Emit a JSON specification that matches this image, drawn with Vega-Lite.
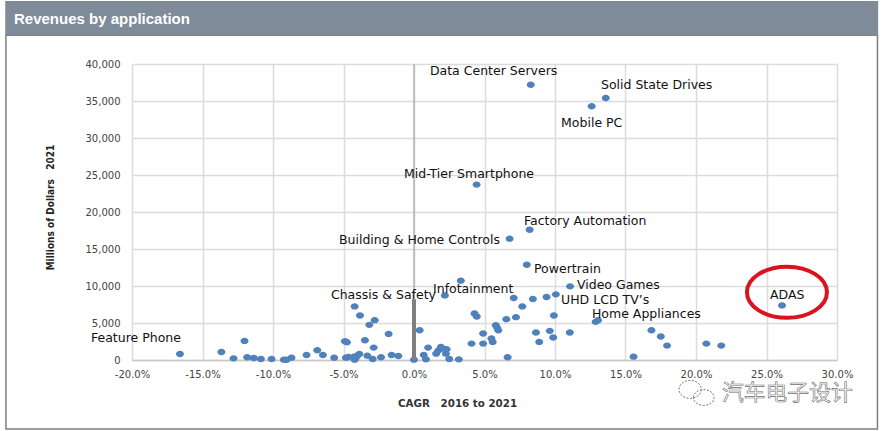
{"$schema":"https://vega.github.io/schema/vega-lite/v6.json","width":705,"height":296,"autosize":{"type":"none"},"padding":{"left":132,"top":64,"right":45,"bottom":71},"background":"white","view":{"stroke":null},
"title":{"text":"Revenues by application","anchor":"start","frame":"group","dx":-118,"offset":0,"dy":26,"color":"white","font":"Liberation Sans","fontWeight":"bold","fontSize":15},
"layer":[
{"mark":{"type":"rect","fill":"transparent","stroke":"#7f7f7f","strokeWidth":1.5},"data":{"values":[{}]},"encoding":{"x":{"datum":-28.94,"type":"quantitative","scale":{"domain":[-20,30],"nice":false,"zero":false},"axis":{"tickCount":10,"labelFlush":false,"labelOverlap":false,"labelExpr":"replace(format(datum.value,'.1f'),'\u2212','-')+'%'","title":"CAGR\u00a0\u00a0\u00a02016 to 2021","titleX":325,"titleY":38,"titleFont":"DejaVu Sans","titleFontSize":10.3,"titleFontWeight":"bold","titleColor":"#333333","labelFont":"DejaVu Sans","labelFontSize":10,"labelColor":"#444444","labelPadding":9,"ticks":false,"domainColor":"#c8c8c8","domainWidth":1.5,"grid":true,"gridColor":"#dcdcdc","gridWidth":1.5}},"x2":{"datum":32.87},"y":{"datum":43900,"type":"quantitative","scale":{"domain":[0,40000],"nice":false},"axis":{"tickCount":8,"labelOverlap":false,"labelFlush":false,"format":",.0f","title":"Millions of Dollars\u00a0\u00a0\u00a02021","titleX":-77,"titleY":143,"titleFont":"DejaVu Sans Condensed","titleFontSize":10,"titleFontWeight":"bold","titleColor":"#222222","labelFont":"DejaVu Sans","labelFontSize":10,"labelColor":"#444444","labelPadding":12,"ticks":false,"domain":false,"grid":true,"gridColor":"#dcdcdc","gridWidth":1.5}},"y2":{"datum":-9322}}},
{"mark":{"type":"rect","fill":"#808b99"},"data":{"values":[{}]},"encoding":{"x":{"datum":-28.99,"type":"quantitative"},"x2":{"datum":32.92},"y":{"datum":48500,"type":"quantitative"},"y2":{"datum":43900}}},
{"data":{"name":"pts","values":[
{"cagr":-16.6,"revenue":815},{"cagr":-13.66,"revenue":1086},{"cagr":-12.02,"revenue":2580},{"cagr":-12.8,"revenue":226},{"cagr":-11.83,"revenue":362},{"cagr":-11.36,"revenue":271},{"cagr":-10.86,"revenue":136},{"cagr":-10.1,"revenue":136},{"cagr":-9.23,"revenue":50},{"cagr":-9.04,"revenue":30},{"cagr":-8.69,"revenue":317},{"cagr":-7.62,"revenue":679},{"cagr":-6.86,"revenue":1312},{"cagr":-6.46,"revenue":679},{"cagr":-5.66,"revenue":317},{"cagr":-4.9,"revenue":2534},{"cagr":-4.76,"revenue":2398},{"cagr":-4.83,"revenue":317},{"cagr":-4.66,"revenue":407},{"cagr":-4.26,"revenue":452},{"cagr":-4.14,"revenue":271},{"cagr":-4.21,"revenue":50},{"cagr":-4.02,"revenue":588},{"cagr":-3.88,"revenue":815},{"cagr":-4.21,"revenue":7240},{"cagr":-3.83,"revenue":6018},{"cagr":-3.17,"revenue":4751},{"cagr":-2.79,"revenue":5385},{"cagr":-3.48,"revenue":2670},{"cagr":-2.86,"revenue":1674},{"cagr":-3.31,"revenue":588},{"cagr":-2.93,"revenue":136},{"cagr":-2.34,"revenue":362},{"cagr":-1.8,"revenue":3529},{"cagr":-1.59,"revenue":679},{"cagr":-1.11,"revenue":543},{"cagr":0,"revenue":50},{"cagr":0.4,"revenue":4027},{"cagr":0.69,"revenue":679},{"cagr":0.85,"revenue":90},{"cagr":1.0,"revenue":1674},{"cagr":1.57,"revenue":860},{"cagr":1.72,"revenue":1267},{"cagr":1.91,"revenue":1765},{"cagr":2.03,"revenue":1538},{"cagr":2.31,"revenue":1448},{"cagr":2.26,"revenue":860},{"cagr":2.5,"revenue":136},{"cagr":3.18,"revenue":90},{"cagr":2.19,"revenue":8733},{"cagr":3.32,"revenue":10724},{"cagr":4.08,"revenue":2217},{"cagr":4.9,"revenue":2217},{"cagr":4.9,"revenue":3575},{"cagr":5.49,"revenue":2896},{"cagr":5.58,"revenue":2443},{"cagr":4.29,"revenue":6290},{"cagr":4.45,"revenue":5882},{"cagr":5.8,"revenue":4706},{"cagr":5.9,"revenue":4344},{"cagr":5.98,"revenue":4027},{"cagr":6.64,"revenue":362},{"cagr":6.55,"revenue":5520},{"cagr":7.23,"revenue":5792},{"cagr":7.68,"revenue":7240},{"cagr":7.07,"revenue":8371},{"cagr":8.43,"revenue":8235},{"cagr":9.4,"revenue":8507},{"cagr":10.06,"revenue":8869},{"cagr":9.92,"revenue":6018},{"cagr":8.65,"revenue":3710},{"cagr":8.88,"revenue":2443},{"cagr":9.63,"revenue":3937},{"cagr":9.87,"revenue":3032},{"cagr":11.05,"revenue":3710},{"cagr":11.07,"revenue":9955},{"cagr":12.88,"revenue":5158},{"cagr":13.05,"revenue":5385},{"cagr":15.57,"revenue":452},{"cagr":16.84,"revenue":4027},{"cagr":17.5,"revenue":3167},{"cagr":17.95,"revenue":1946},{"cagr":20.73,"revenue":2217},{"cagr":21.79,"revenue":1946},{"cagr":26.1,"revenue":7376},{"cagr":8.28,"revenue":37200},{"cagr":13.6,"revenue":35400},{"cagr":12.6,"revenue":34300},{"cagr":4.44,"revenue":23700},{"cagr":8.2,"revenue":17600},{"cagr":6.78,"revenue":16400},{"cagr":8.0,"revenue":12880}]},
"mark":{"type":"point","shape":"M-1 0A1 .8 0 1 1 1 0A1 .8 0 1 1 -1 0Z","filled":true,"color":"#4f81bd","opacity":1,"size":64},
"encoding":{"x":{"field":"cagr","type":"quantitative"},"y":{"field":"revenue","type":"quantitative"}}},
{"data":{"values":[{"x":0,"y":0,"y2":40000}]},"mark":{"type":"rule","color":"#a6a6a6","strokeWidth":1.2},"encoding":{"x":{"field":"x","type":"quantitative"},"y":{"field":"y","type":"quantitative"},"y2":{"field":"y2"}}},
{"data":{"values":[{"x":0,"y":0,"y2":8200}]},"mark":{"type":"rule","color":"#7f7f7f","strokeWidth":4},"encoding":{"x":{"field":"x","type":"quantitative"},"y":{"field":"y","type":"quantitative"},"y2":{"field":"y2"}}},
{"data":{"values":[{"x":26.45,"y":9153}]},"mark":{"type":"point","shape":"M-1 0A1 .64 0 1 1 1 0A1 .64 0 1 1 -1 0Z","filled":false,"stroke":"#d9141e","strokeWidth":4,"opacity":1,"size":6400},"encoding":{"x":{"field":"x","type":"quantitative"},"y":{"field":"y","type":"quantitative"}}},
{"data":{"values":[
{"label":"Data Center Servers","x":1.13,"y":39121},{"label":"Solid State Drives","x":13.26,"y":37222},{"label":"Mobile PC","x":10.43,"y":32069},{"label":"Mid-Tier Smartphone","x":-0.71,"y":25289},{"label":"Factory Automation","x":7.8,"y":18916},{"label":"Building & Home Controls","x":-5.32,"y":16340},{"label":"Powertrain","x":8.51,"y":12407},{"label":"Video Games","x":11.56,"y":10238},{"label":"Infotainment","x":1.35,"y":9695},{"label":"Chassis & Safety","x":-5.89,"y":8882},{"label":"UHD LCD TV\u2019s","x":10.43,"y":8204},{"label":"Home Appliances","x":12.62,"y":6305},{"label":"Feature Phone","x":-22.91,"y":3051},{"label":"ADAS","x":25.25,"y":8882}]},
"mark":{"type":"text","align":"left","baseline":"middle","dy":0.7,"font":"DejaVu Sans","fontSize":12.5,"color":"#111111"},"encoding":{"x":{"field":"x","type":"quantitative"},"y":{"field":"y","type":"quantitative"},"text":{"field":"label"}}},
{"data":{"values":[{"x":21.84,"y":-4458,"label":"\u6c7d\u8f66\u7535\u5b50\u8bbe\u8ba1"}]},"mark":{"type":"text","align":"left","baseline":"middle","font":"Noto Sans CJK SC","fontSize":21.8,"fill":"#ffffff","stroke":"#6e6e6e","strokeWidth":0.6},"encoding":{"x":{"field":"x","type":"quantitative"},"y":{"field":"y","type":"quantitative"},"text":{"field":"label"}}},
{"data":{"values":[{"x":20.07,"y":-4458}]},"mark":{"type":"point","shape":"M-1 -.2A.62 .5 0 1 1 .24 -.2A.62 .5 0 1 1 -1 -.2ZM-.2 .25A.55 .42 0 1 1 .95 .25A.55 .42 0 1 1 -.2 .25Z","filled":false,"stroke":"#777777","strokeWidth":1,"strokeDash":[2,1.5],"opacity":1,"size":1296},"encoding":{"x":{"field":"x","type":"quantitative"},"y":{"field":"y","type":"quantitative"}}}
]}
